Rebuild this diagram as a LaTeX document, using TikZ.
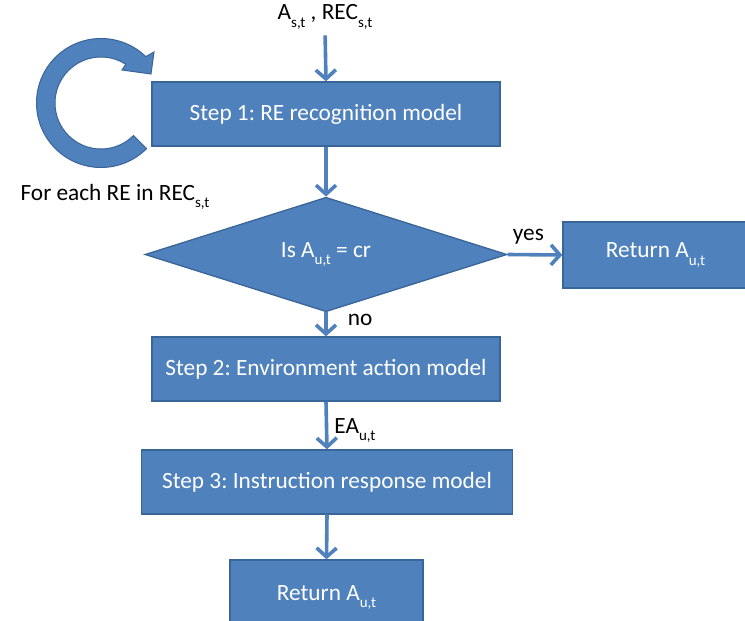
\documentclass[tikz,border=0pt]{standalone}
\usepackage{fontspec}
\setmainfont{Carlito}
\usetikzlibrary{arrows.meta,shapes.geometric}
\definecolor{boxblue}{HTML}{4F81BD}
\definecolor{edgeblue}{HTML}{3A6598}
% lowered small index, e.g. A_{u,t}
\newcommand{\lowsub}[1]{\raisebox{-0.32em}{\fontsize{15}{15}\selectfont #1}}
\frenchspacing
\begin{document}
\begin{tikzpicture}[x=1pt,y=-1pt,
  every node/.style={font=\fontsize{23.3}{26}\selectfont},
  block/.style={rectangle, fill=boxblue, draw=edgeblue, line width=1.3pt,
    text=white, inner sep=0pt},
  decision/.style={diamond, fill=boxblue, draw=edgeblue, line width=1.3pt,
    text=white, inner sep=0pt, minimum width=362pt, minimum height=85pt},
  flow/.style={draw=boxblue, line width=3.6pt,
    -{Straight Barb[length=9pt,width=20pt]}},
  lbl/.style={text=black, inner sep=0pt}]
\useasboundingbox (0,0) rectangle (745,621);
\clip (0,0) rectangle (745,621);

% blocks
\node[block, minimum width=348pt, minimum height=64pt] (step1) at (326,114)
  {Step 1: RE recognition model};
\node[decision] (dec) at (326,254.5) {Is A\lowsub{u,t} = cr};
\node[block, minimum width=185pt, minimum height=66pt] (ret1) at (655.5,255)
  {Return A\lowsub{u,t}};
\node[block, minimum width=348pt, minimum height=64pt] (step2) at (326,369)
  {Step 2: Environment action model};
\node[block, minimum width=371pt, minimum height=64pt] (step3) at (327,482)
  {Step 3: Instruction response model};
\node[block, minimum width=193pt, minimum height=70pt, text depth=0pt] (ret2) at (326.5,595)
  {\raisebox{4pt}{Return A\lowsub{u,t}}};

% input label
\node[lbl] (inp) at (325,17) {A\lowsub{s,t} , REC\lowsub{s,t}};

% connectors
\draw[flow, shorten <=6pt] (inp.south) -- (step1.north);
\draw[flow] (step1.south) -- (dec.north);
\draw[flow] (dec.east) -- node[lbl, above=9pt, pos=0.38] (yes) {yes} (ret1.west);
\draw[flow] (dec.south) -- node[lbl, right=20pt, pos=0.32] (no) {no} (step2.north);
\draw[flow] (step2.south) -- node[lbl, right=6pt, pos=0.6] (ea) {EA\lowsub{u,t}} (step3.north);
\draw[flow] (step3.south) -- (ret2.north);

% repeat loop around step 1 (angles run clockwise on the page)
\fill[boxblue, draw=edgeblue, line width=1pt]
  (101,103) ++(-46:64.5) arc[start angle=-46, end angle=-315, radius=64.5]
  -- ++(-315:-18.5)
  arc[start angle=-315, end angle=-57.5, radius=46]
  -- (122,70) -- (151,74) -- (154,52) -- cycle;
\node[lbl] (loop) at (115,197) {For each RE in REC\lowsub{s,t}};
\end{tikzpicture}
\end{document}
